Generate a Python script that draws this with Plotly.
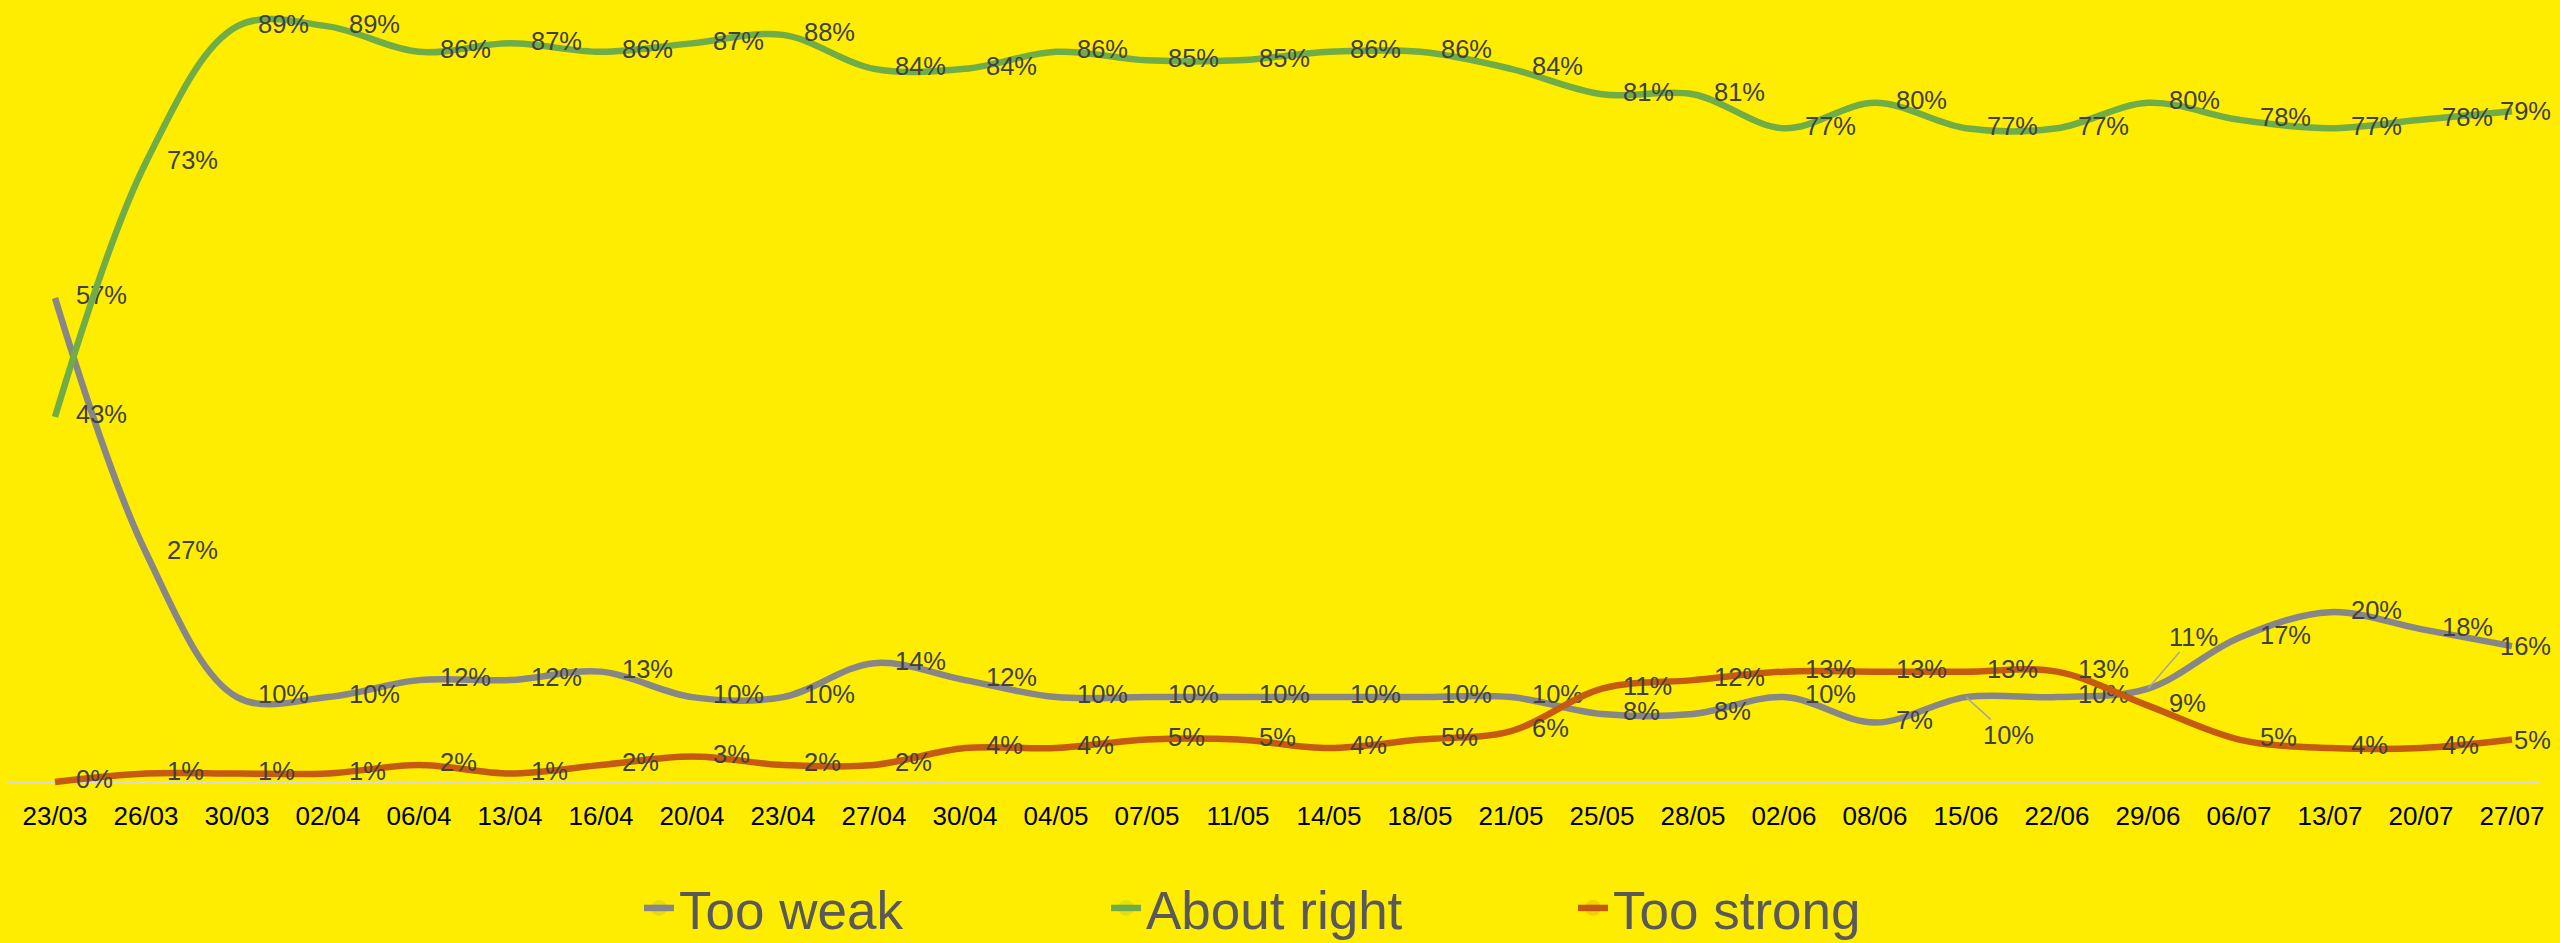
import plotly.graph_objects as go

dates = ["23/03", "26/03", "30/03", "02/04", "06/04", "13/04", "16/04", "20/04", "23/04", "27/04",
         "30/04", "04/05", "07/05", "11/05", "14/05", "18/05", "21/05", "25/05", "28/05", "02/06",
         "08/06", "15/06", "22/06", "29/06", "06/07", "13/07", "20/07", "27/07"]

too_weak = [57, 27, 10, 10, 12, 12, 13, 10, 10, 14,
            12, 10, 10, 10, 10, 10, 10, 8, 8, 10,
            7, 10, 10, 11, 17, 20, 18, 16]
about_right = [43, 73, 89, 89, 86, 87, 86, 87, 88, 84,
               84, 86, 85, 85, 86, 86, 84, 81, 81, 77,
               80, 77, 77, 80, 78, 77, 78, 79]
too_strong = [0, 1, 1, 1, 2, 1, 2, 3, 2, 2,
              4, 4, 5, 5, 4, 5, 6, 11, 12, 13,
              13, 13, 13, 9, 5, 4, 4, 5]

series = [
    ("Too weak", too_weak, "#878787"),
    ("About right", about_right, "#70AD47"),
    ("Too strong", too_strong, "#C55A11"),
]

# labels moved off their points with a leader line (pixel offsets)
moved_labels = {("Too weak", "15/06"): (42, 38), ("Too weak", "29/06"): (45, -52)}

FONT = "Liberation Sans, Arial, sans-serif"
BG = "#FFED00"
LABEL_FONT = dict(family=FONT, size=25.5, color="#404040")

fig = go.Figure()
annotations = []
for name, vals, color in series:
    texts = []
    for i, (d, v) in enumerate(zip(dates, vals)):
        if (name, d) in moved_labels:
            texts.append("")
            ax, ay = moved_labels[(name, d)]
            annotations.append(dict(
                x=d, y=v, xref="x", yref="y", text=f"{v}%", showarrow=True,
                arrowhead=0, arrowwidth=1.5, arrowcolor="#A6A6A6", ax=ax, ay=ay,
                standoff=0, font=LABEL_FONT))
        elif i == len(dates) - 1:
            # last label kept inside the chart's right edge
            texts.append("")
            annotations.append(dict(
                x=d, y=v, xref="x", yref="y", text=f"{v}%", showarrow=False,
                xanchor="right", yanchor="middle", xshift=41, font=LABEL_FONT))
        else:
            texts.append(f"{v}%")
    fig.add_trace(go.Scatter(
        x=dates, y=vals, name=name, mode="lines+markers+text",
        line=dict(color=color, width=6.5, shape="spline", smoothing=1.0),
        marker=dict(size=32, opacity=0, color=color),
        text=texts, textposition="middle right",
        textfont=LABEL_FONT,
        cliponaxis=False, hoverinfo="skip",
    ))

W, H = 2560, 943
left, right = 7, 20
top, bottom_px = 0, 798
px_per_pct = 8.49
ymax = 782 / px_per_pct
ymin = -(bottom_px - 782) / px_per_pct
plot_w = W - left - right
spacing = 91.0
x0 = -(55 - left) / spacing
x1 = x0 + plot_w / spacing

fig.update_layout(
    width=W, height=H,
    paper_bgcolor=BG, plot_bgcolor=BG,
    margin=dict(l=left, r=right, t=top, b=H - bottom_px, pad=0),
    font=dict(family=FONT, color="#404040"),
    showlegend=True,
    legend=dict(
        orientation="h", xref="container", yref="container",
        x=639 / W, xanchor="left", y=35 / H, yanchor="middle",
        font=dict(family=FONT, size=53, color="#595959"),
        bgcolor="rgba(0,0,0,0)", entrywidth=422, itemclick=False,
    ),
    xaxis=dict(
        type="category", range=[x0, x1], showgrid=False, showline=False,
        zeroline=False, ticks="", tickfont=dict(family=FONT, size=26, color="#000000"),
        fixedrange=True,
    ),
    yaxis=dict(
        range=[ymin, ymax], showgrid=False, showline=False, showticklabels=False,
        zeroline=True, zerolinecolor="#D9D9D9", zerolinewidth=2.5, fixedrange=True,
    ),
    annotations=annotations,
)

fig.write_html("out.html", config={"displayModeBar": False},
               post_script="document.body.style.margin='0';document.body.style.overflow='hidden';")
